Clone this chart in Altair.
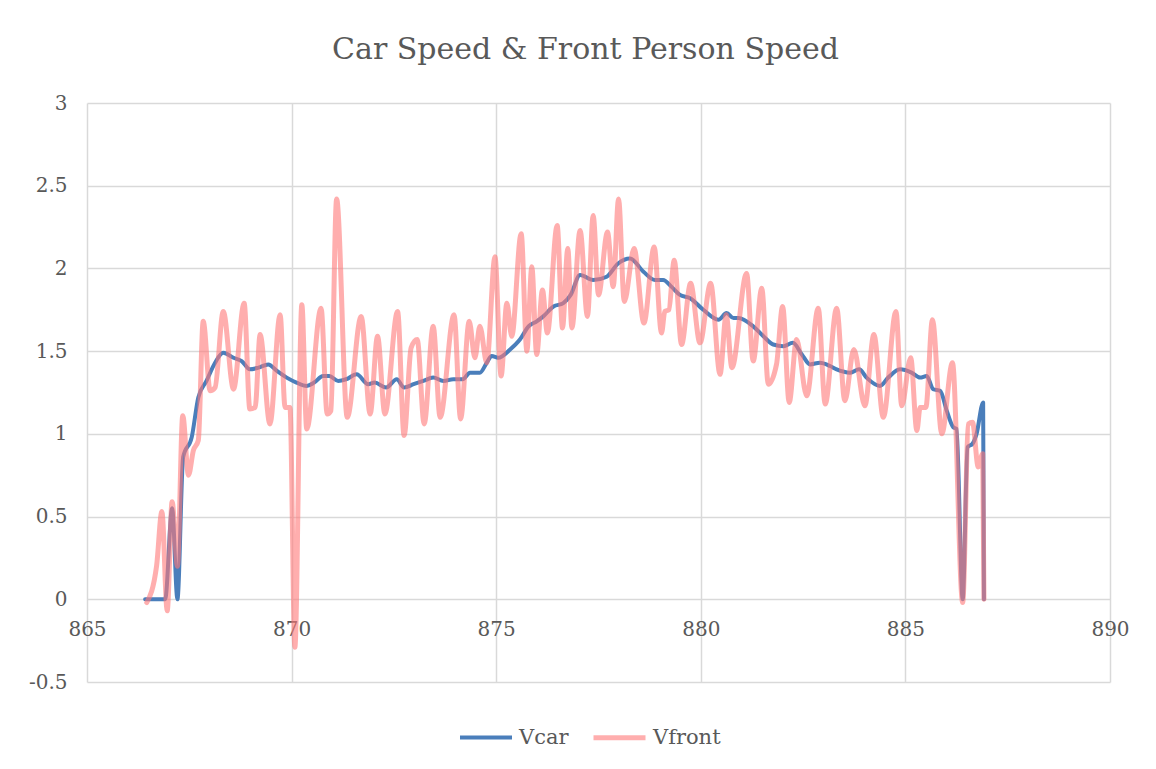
import altair as alt
import pandas as pd

# ---- data ----
vcar_t = [866.42, 866.91, 867.08, 867.21, 867.35, 867.56, 867.72, 867.92, 868.13, 868.33,
          868.58, 868.78, 868.98, 869.19, 869.43, 869.64, 869.88, 870.12, 870.37, 870.55,
          870.77, 870.92, 871.14, 871.33, 871.59, 871.87, 872.03, 872.31, 872.57, 872.75,
          872.98, 873.22, 873.46, 873.71, 873.95, 874.18, 874.36, 874.60, 874.77, 874.89,
          875.05, 875.34, 875.58, 875.79, 875.99, 876.15, 876.40, 876.64, 876.82, 877.05,
          877.37, 877.70, 877.98, 878.27, 878.60, 878.88, 879.08, 879.28, 879.49, 879.74,
          880.06, 880.43, 880.63, 880.80, 880.92, 881.28, 881.53, 881.77, 882.02, 882.25,
          882.47, 882.67, 882.91, 883.16, 883.32, 883.65, 883.87, 884.05, 884.38, 884.58,
          884.87, 885.15, 885.36, 885.52, 885.68, 885.85, 886.01, 886.17, 886.25, 886.40,
          886.52, 886.64, 886.74, 886.90, 886.92]
vcar_v = [0.00, 0.00, 0.55, 0.00, 0.86, 0.98, 1.22, 1.32, 1.43, 1.49,
          1.46, 1.44, 1.39, 1.40, 1.42, 1.38, 1.34, 1.31, 1.29, 1.31,
          1.35, 1.35, 1.32, 1.33, 1.36, 1.30, 1.31, 1.28, 1.33, 1.28,
          1.30, 1.32, 1.34, 1.32, 1.33, 1.33, 1.37, 1.37, 1.43, 1.47,
          1.46, 1.51, 1.57, 1.65, 1.68, 1.71, 1.77, 1.79, 1.84, 1.96,
          1.93, 1.95, 2.03, 2.06, 1.98, 1.93, 1.93, 1.89, 1.84, 1.82,
          1.75, 1.69, 1.73, 1.70, 1.70, 1.65, 1.59, 1.54, 1.53, 1.55,
          1.48, 1.42, 1.43, 1.41, 1.39, 1.37, 1.39, 1.34, 1.29, 1.34,
          1.39, 1.37, 1.34, 1.35, 1.27, 1.26, 1.14, 1.04, 1.03, 0.00,
          0.92, 0.94, 1.00, 1.19, 0.00]

vfront_t = [866.46, 866.70, 866.83, 866.96, 867.08, 867.21, 867.34, 867.48, 867.60, 867.72,
            867.84, 868.01, 868.13, 868.33, 868.58, 868.84, 868.98, 869.11, 869.23, 869.47,
            869.72, 869.84, 869.96, 870.08, 870.25, 870.37, 870.72, 870.87, 870.96, 871.10,
            871.36, 871.70, 871.92, 872.10, 872.28, 872.59, 872.75, 872.92, 873.07, 873.24,
            873.46, 873.63, 873.97, 874.13, 874.34, 874.48, 874.60, 874.77, 874.97, 875.12,
            875.26, 875.38, 875.61, 875.75, 875.87, 875.99, 876.13, 876.25, 876.49, 876.62,
            876.75, 876.85, 877.05, 877.23, 877.37, 877.50, 877.72, 877.86, 877.99, 878.13,
            878.37, 878.61, 878.86, 879.04, 879.12, 879.22, 879.35, 879.53, 879.75, 879.98,
            880.24, 880.47, 880.62, 880.76, 881.12, 881.28, 881.49, 881.65, 881.85, 882.00,
            882.16, 882.34, 882.59, 882.87, 883.04, 883.32, 883.52, 883.74, 884.01, 884.23,
            884.46, 884.77, 884.91, 885.13, 885.28, 885.36, 885.50, 885.66, 885.89, 886.15,
            886.40, 886.54, 886.64, 886.78, 886.89, 886.92]
vfront_v = [-0.02, 0.20, 0.53, -0.07, 0.59, 0.20, 1.11, 0.75, 0.90, 0.96,
            1.68, 1.26, 1.28, 1.74, 1.27, 1.79, 1.15, 1.16, 1.60, 1.06,
            1.72, 1.16, 1.16, -0.29, 1.78, 1.03, 1.76, 1.12, 1.14, 2.42,
            1.10, 1.71, 1.12, 1.59, 1.12, 1.74, 0.99, 1.52, 1.57, 1.06,
            1.65, 1.10, 1.72, 1.09, 1.68, 1.46, 1.65, 1.43, 2.07, 1.35,
            1.79, 1.59, 2.21, 1.50, 2.01, 1.48, 1.87, 1.61, 2.26, 1.64,
            2.12, 1.64, 2.23, 1.71, 2.32, 1.84, 2.22, 1.89, 2.42, 1.80,
            2.12, 1.67, 2.13, 1.61, 1.74, 1.75, 2.05, 1.54, 1.91, 1.55,
            1.91, 1.36, 1.72, 1.40, 1.97, 1.44, 1.88, 1.30, 1.42, 1.77,
            1.19, 1.57, 1.23, 1.76, 1.18, 1.76, 1.20, 1.51, 1.17, 1.60,
            1.10, 1.74, 1.17, 1.46, 1.02, 1.16, 1.16, 1.69, 1.00, 1.43,
            -0.02, 1.06, 1.07, 0.80, 0.88, 0.00]

series_names = ["Vcar", "Vfront"]
x_ticks = [865, 870, 875, 880, 885, 890]
y_ticks = [-0.5, 0, 0.5, 1, 1.5, 2, 2.5, 3]

df = pd.concat([
    pd.DataFrame({"t": vcar_t, "v": vcar_v, "series": series_names[0]}),
    pd.DataFrame({"t": vfront_t, "v": vfront_v, "series": series_names[1]}),
], ignore_index=True)

FONT = "DejaVu Serif"
TXT = "#595959"
GRID = "#d9d9d9"

chart = alt.Chart(df).mark_line(
    interpolate="monotone", strokeCap="round", strokeJoin="round"
).encode(
    x=alt.X("t:Q",
            scale=alt.Scale(domain=[865, 890], nice=False, zero=False),
            axis=alt.Axis(values=x_ticks, title=None, offset=-83, domain=False,
                          ticks=False, labelPadding=20, labelFontSize=20,
                          labelFont=FONT, labelColor=TXT, labelFlush=False,
                          grid=True, gridColor=GRID, gridWidth=1.5)),
    y=alt.Y("v:Q",
            scale=alt.Scale(domain=[-0.5, 3], nice=False, zero=False),
            axis=alt.Axis(values=y_ticks, title=None, domain=False, ticks=False,
                          labelExpr="'' + datum.value", labelPadding=20,
                          labelFontSize=20, labelFont=FONT, labelColor=TXT,
                          labelFlush=False,
                          grid=True, gridColor=GRID, gridWidth=1.5)),
    color=alt.Color("series:N",
                    scale=alt.Scale(domain=series_names,
                                    range=["#4a7ebb", "rgba(255,120,120,0.6)"]),
                    legend=alt.Legend(title=None, orient="none", direction="horizontal",
                                      legendX=371, legendY=606, padding=0,
                                      symbolType="stroke", symbolSize=2704,
                                      symbolStrokeWidth=4, labelFont=FONT,
                                      labelFontSize=21, labelColor=TXT,
                                      labelOffset=5, columnPadding=14)),
    strokeWidth=alt.StrokeWidth("series:N",
                                scale=alt.Scale(domain=series_names, range=[4, 5]),
                                legend=None),
).properties(
    width=1023,
    height=579,
    title=alt.TitleParams("Car Speed & Front Person Speed", font=FONT, fontSize=30,
                          fontWeight="normal", color=TXT, anchor="middle", offset=28,
                          dx=-13),
    autosize=alt.AutoSizeParams(type="none"),
    padding={"left": 79, "top": 95, "right": 30, "bottom": 80},
).configure_view(stroke=None)

chart.save("out.html", embed_options={"renderer": "svg", "actions": False})
